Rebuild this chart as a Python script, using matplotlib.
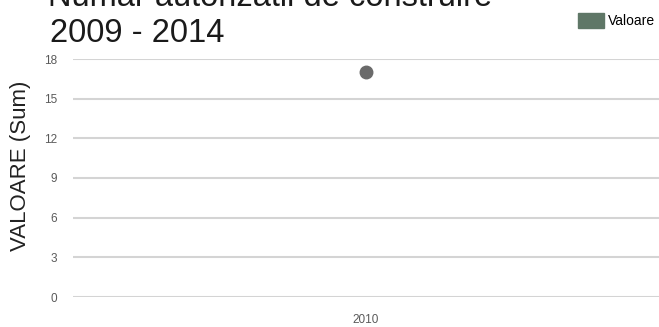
import matplotlib
matplotlib.use("Agg")
import matplotlib.pyplot as plt
from matplotlib.patches import Patch

# Date
categorii = ["2010"]
valori = [17]
y_ticks = [0, 3, 6, 9, 12, 15, 18]

titlu_1 = "Numar autorizatii de construire"
titlu_2 = "2009 - 2014"
eticheta_y = "VALOARE (Sum)"
legenda = "Valoare"

plt.rcParams["font.family"] = ["Liberation Sans", "DejaVu Sans"]

fig = plt.figure(figsize=(6.59, 3.27), dpi=100)
ax = fig.add_axes([73 / 659, 1 - 297 / 327, 1 - 73 / 659, (297 - 59) / 327])

x = list(range(len(categorii)))
ax.plot(x, valori, "o", color="#6a6a6a", markersize=9, zorder=3)

ax.set_xlim(-0.5, len(categorii) - 0.5)
ax.set_ylim(0, 18)
ax.set_yticks(y_ticks)
ax.set_yticklabels([str(t) for t in y_ticks])
ax.set_xticks(x)
ax.set_xticklabels(categorii)
ax.tick_params(axis="both", length=0, labelsize=8.5, labelcolor="#5a5a5a")
ax.tick_params(axis="y", pad=11.5)
ax.tick_params(axis="x", pad=12.5)
ax.grid(axis="y", color="#d4d4d4", linewidth=1.5)
ax.set_axisbelow(True)
for s in ax.spines.values():
    s.set_visible(False)

ax.set_ylabel(eticheta_y, fontsize=16, color="#222222")
ax.yaxis.set_label_coords(-0.072, 0.55)

fig.text(48 / 659, 1 - 6 / 327, titlu_1, fontsize=23.5, color="#1a1a1a", va="baseline")
fig.text(50 / 659, 1 - 42 / 327, titlu_2, fontsize=23.5, color="#1a1a1a", va="baseline")

leg = fig.legend(handles=[Patch(facecolor="#5f7767", edgecolor="#5f7767", label=legenda)],
                 loc="upper right", bbox_to_anchor=(1.006, 0.985), frameon=False,
                 fontsize=10, handlelength=1.9, handleheight=1.3, handletextpad=0.25,
                 borderaxespad=0.2)

fig.savefig("out.png", dpi=100)
